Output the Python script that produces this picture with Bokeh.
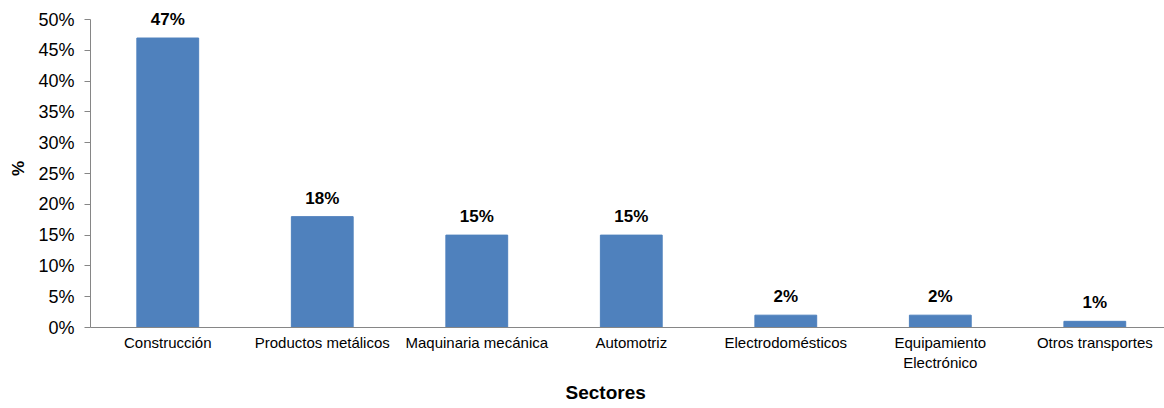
from bokeh.plotting import figure
from bokeh.models import Range1d, FixedTicker, ColumnDataSource, NumeralTickFormatter, LabelSet, Title
from bokeh.core.properties import value
from bokeh.embed import file_html
from bokeh.resources import INLINE

categories = ["Construcción", "Productos metálicos", "Maquinaria mecánica", "Automotriz",
              "Electrodomésticos", "Equipamiento\nElectrónico", "Otros transportes"]
values = [0.47, 0.18, 0.15, 0.15, 0.02, 0.02, 0.01]
value_labels = ["47%", "18%", "15%", "15%", "2%", "2%", "1%"]
y_ticks = [0, 0.05, 0.10, 0.15, 0.20, 0.25, 0.30, 0.35, 0.40, 0.45, 0.50]

xs = [i + 0.5 for i in range(len(categories))]
src = ColumnDataSource(dict(x=xs, top=values, lab=value_labels))

FONT = "Liberation Sans"

p = figure(width=1164, height=408, output_backend="svg", toolbar_location=None,
           x_range=Range1d(0, 6.951), y_range=Range1d(0, 0.5163))
p.min_border_left = 90
p.min_border_right = 0
p.min_border_top = 9
p.min_border_bottom = 0
p.outline_line_color = None
p.background_fill_color = "white"
p.border_fill_color = "white"
p.xgrid.visible = False
p.ygrid.visible = False

p.vbar(x="x", top="top", width=0.4, bottom=0, source=src, color="#4F81BD")

labels = LabelSet(x="x", y="top", text="lab", source=src, text_align="center",
                  text_baseline="bottom", y_offset=9, text_font=value(FONT),
                  text_font_size="17px", text_font_style="bold", text_color="black")
p.add_layout(labels)

# y axis
p.yaxis.ticker = FixedTicker(ticks=y_ticks)
p.yaxis.bounds = (0, 0.5)
p.yaxis.formatter = NumeralTickFormatter(format="0%")
p.yaxis.axis_line_color = "#868686"
p.yaxis.major_tick_line_color = "#868686"
p.yaxis.major_tick_out = 6
p.yaxis.major_tick_in = 0
p.yaxis.minor_tick_line_color = None
p.yaxis.major_label_text_font = FONT
p.yaxis.major_label_text_font_size = "18px"
p.yaxis.major_label_text_color = "black"
p.yaxis.major_label_standoff = 10
p.yaxis.axis_label = "%"
p.yaxis.axis_label_text_font = FONT
p.yaxis.axis_label_text_font_size = "17px"
p.yaxis.axis_label_text_font_style = "bold"
p.yaxis.axis_label_text_color = "black"
p.yaxis.axis_label_standoff = 7

# x axis
p.xaxis.ticker = FixedTicker(ticks=xs)
p.xaxis.major_label_overrides = {x: c for x, c in zip(xs, categories)}
p.xaxis.axis_line_color = "#868686"
p.xaxis.major_tick_line_color = None
p.xaxis.major_tick_out = 0
p.xaxis.major_tick_in = 0
p.xaxis.minor_tick_line_color = None
p.xaxis.major_label_text_font = FONT
p.xaxis.major_label_text_font_size = "15px"
p.xaxis.major_label_text_color = "black"
p.xaxis.major_label_standoff = 6

xtitle = Title(text="Sectores", align="left", offset=475, standoff=12,
               text_font=FONT, text_font_size="19px", text_font_style="bold",
               text_color="black")
p.add_layout(xtitle, "below")

open("out.html", "w").write(file_html(p, INLINE))
